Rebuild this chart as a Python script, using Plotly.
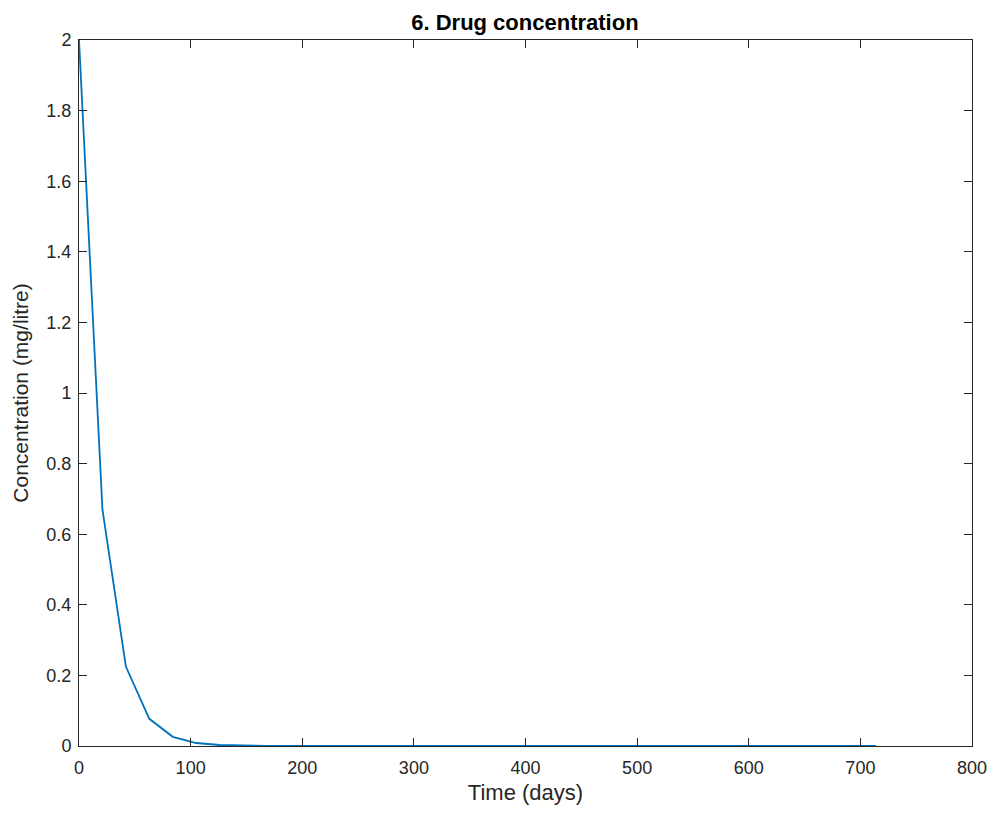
import plotly.graph_objects as go

time_days = [0, 21, 42, 63, 84, 105, 126, 147, 168, 189, 210, 231, 252, 273, 294,
             315, 336, 357, 378, 399, 420, 441, 462, 483, 504, 525, 546, 567, 588,
             609, 630, 651, 672, 693, 714]
concentration = [2.0, 0.67, 0.225, 0.077, 0.026, 0.0085, 0.0028, 0.001, 0.0003, 0.0001,
                 0, 0, 0, 0, 0, 0, 0, 0, 0, 0, 0, 0, 0, 0, 0, 0, 0, 0, 0, 0, 0, 0, 0, 0, 0]
x_ticks = [0, 100, 200, 300, 400, 500, 600, 700, 800]
y_ticks = [0, 0.2, 0.4, 0.6, 0.8, 1, 1.2, 1.4, 1.6, 1.8, 2]
y_tick_labels = ["0", "0.2", "0.4", "0.6", "0.8", "1", "1.2", "1.4", "1.6", "1.8", "2"]

axis_color = "#262626"
font_family = "Liberation Sans, Arial, sans-serif"

fig = go.Figure()
fig.add_trace(go.Scatter(x=time_days, y=concentration, mode="lines",
                         line=dict(color="#0072BD", width=1.8), showlegend=False))

common = dict(showgrid=False, zeroline=False, showline=True, linecolor=axis_color,
              linewidth=1, mirror="ticks", ticks="inside", ticklen=8, tickwidth=1,
              automargin=False, ticklabeloverflow="allow",
              tickcolor=axis_color, tickfont=dict(family=font_family, size=18, color=axis_color))

fig.update_xaxes(range=[0, 800], tickvals=x_ticks, ticktext=[str(v) for v in x_ticks],
                 ticklabelstandoff=5,
                 title=dict(text="Time (days)", font=dict(family=font_family, size=22, color=axis_color), standoff=8),
                 **common)
fig.update_yaxes(range=[0, 2], tickvals=y_ticks, ticktext=y_tick_labels,
                 ticklabelstandoff=3,
                 title=dict(text="Concentration (mg/litre)", font=dict(family=font_family, size=21, color=axis_color), standoff=12),
                 **common)

fig.update_layout(
    width=979, height=799,
    margin=dict(l=71, r=15, t=32, b=61),
    paper_bgcolor="white", plot_bgcolor="white",
    title=dict(text="<b>6. Drug concentration</b>", x=0.528, xanchor="center", y=0.9825, yanchor="middle",
               font=dict(family=font_family, size=22, color="black")),
)

fig.write_html("out.html")
